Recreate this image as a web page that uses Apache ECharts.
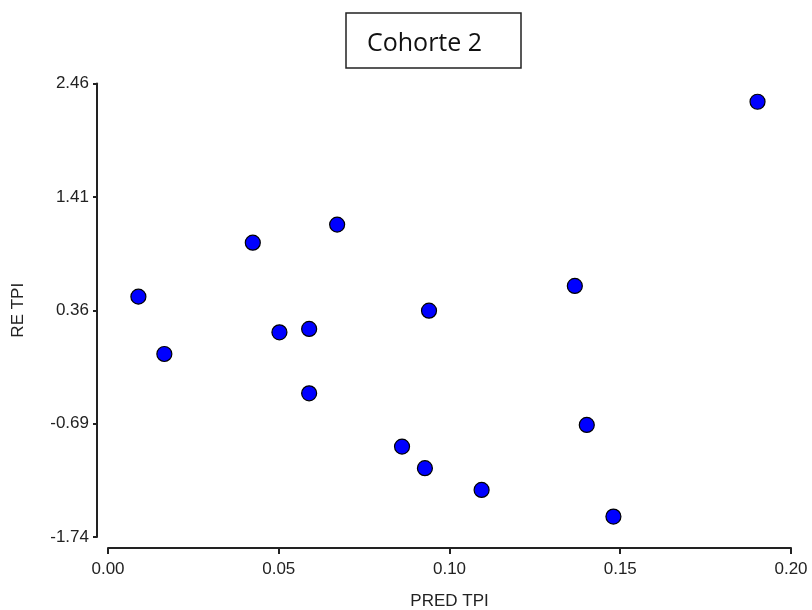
<!DOCTYPE html>
<html>
<head>
<meta charset="utf-8">
<title>Cohorte 2</title>
<script src="https://cdn.jsdelivr.net/npm/echarts@6/dist/echarts.min.js"></script>
<style>
  html, body { margin: 0; padding: 0; background: #fff; }
  #chart { width: 812px; height: 610px; }
</style>
</head>
<body>
<div id="chart"></div>
<script>
// values
var predTpi = [0.0089, 0.0165, 0.0424, 0.0502, 0.0589, 0.0589, 0.0671, 0.0940,
               0.0861, 0.0928, 0.1094, 0.1367, 0.1402, 0.1480, 0.1902];
var reTpi   = [0.486, -0.045, 0.986, 0.156, 0.187, -0.409, 1.153, 0.356,
               -0.903, -1.103, -1.304, 0.585, -0.702, -1.551, 2.291];
var yTicks  = [-1.74, -0.69, 0.36, 1.41, 2.46];

var points = predTpi.map(function (x, i) { return [x, reTpi[i]]; });

var axisFont = { fontFamily: 'Liberation Sans, Arial, sans-serif', fontSize: 17, color: '#222' };
var axisLine = { onZero: false, lineStyle: { color: '#222', width: 2 } };

var chart = echarts.init(document.getElementById('chart'));

chart.setOption({
    backgroundColor: '#fff',
    animation: false,
    title: {
        text: 'Cohorte 2',
        left: 367,
        top: 31,
        padding: 0,
        textStyle: { fontFamily: 'Open Sans', fontSize: 25, fontWeight: 'normal', color: '#111', lineHeight: 25 }
    },
    graphic: [{
        type: 'rect',
        shape: { x: 346, y: 13, width: 175, height: 55 },
        style: { fill: 'none', stroke: '#222', lineWidth: 1.5 }
    }],
    grid: { left: 108, right: 21, top: 83.5, bottom: 73, outerBoundsMode: 'none' },
    xAxis: {
        type: 'value',
        min: 0,
        max: 0.2,
        interval: 0.05,
        offset: 11,
        name: 'PRED TPI',
        nameLocation: 'middle',
        nameGap: 45,
        nameTextStyle: axisFont,
        axisLine: axisLine,
        axisTick: { length: 6, lineStyle: { color: '#222', width: 2 } },
        axisLabel: Object.assign({ margin: 13, formatter: function (v) { return v.toFixed(2); } }, axisFont),
        splitLine: { show: false }
    },
    yAxis: {
        type: 'value',
        min: yTicks[0],
        max: yTicks[yTicks.length - 1],
        interval: 1.05,
        offset: 11,
        name: 'RE TPI',
        nameLocation: 'middle',
        nameGap: 70,
        nameTextStyle: axisFont,
        axisLine: axisLine,
        axisLabel: Object.assign({
            margin: 8,
            customValues: yTicks,
            formatter: function (v) { return v.toFixed(2); }
        }, axisFont),
        axisTick: { length: 4, customValues: yTicks, lineStyle: { color: '#222', width: 2 } },
        splitLine: { show: false }
    },
    series: [{
        type: 'scatter',
        data: points,
        symbol: 'circle',
        symbolSize: 15,
        itemStyle: { color: '#0000ff', borderColor: '#000', borderWidth: 1.2, opacity: 1 }
    }]
});
</script>
</body>
</html>
